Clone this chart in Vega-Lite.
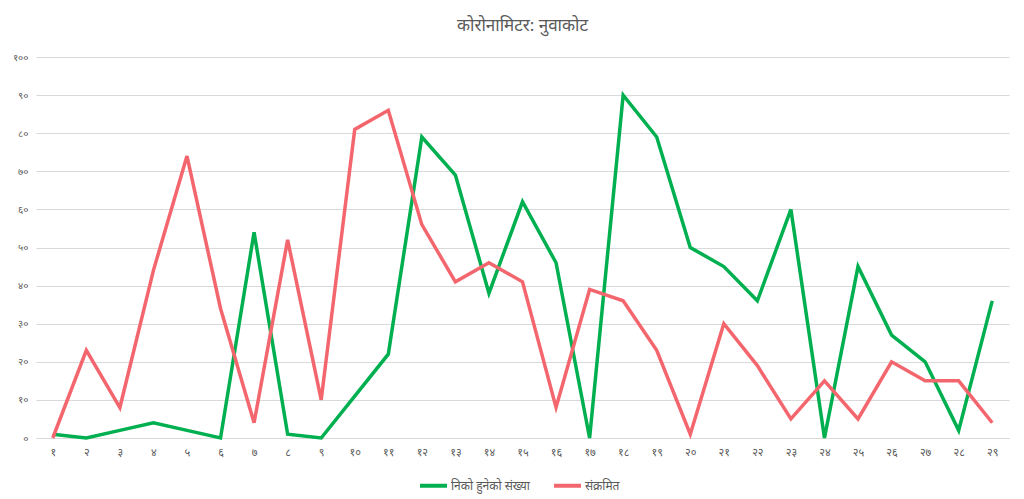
{
  "$schema": "https://vega.github.io/schema/vega-lite/v6.json",
  "autosize": "none",
  "padding": {"left": 36, "top": 57, "right": 15, "bottom": 61},
  "width": 973,
  "height": 381,
  "background": "white",
  "title": {
    "text": "कोरोनामिटर: नुवाकोट",
    "anchor": "middle",
    "fontSize": 17,
    "fontWeight": "normal",
    "color": "#595959",
    "offset": 17
  },
  "data": {
    "values": [
      {"day": 1, "series": "निको हुनेको संख्या", "value": 1},
      {"day": 2, "series": "निको हुनेको संख्या", "value": 0},
      {"day": 3, "series": "निको हुनेको संख्या", "value": 2},
      {"day": 4, "series": "निको हुनेको संख्या", "value": 4},
      {"day": 5, "series": "निको हुनेको संख्या", "value": 2},
      {"day": 6, "series": "निको हुनेको संख्या", "value": 0},
      {"day": 7, "series": "निको हुनेको संख्या", "value": 54},
      {"day": 8, "series": "निको हुनेको संख्या", "value": 1},
      {"day": 9, "series": "निको हुनेको संख्या", "value": 0},
      {"day": 10, "series": "निको हुनेको संख्या", "value": 11},
      {"day": 11, "series": "निको हुनेको संख्या", "value": 22},
      {"day": 12, "series": "निको हुनेको संख्या", "value": 79},
      {"day": 13, "series": "निको हुनेको संख्या", "value": 69},
      {"day": 14, "series": "निको हुनेको संख्या", "value": 38},
      {"day": 15, "series": "निको हुनेको संख्या", "value": 62},
      {"day": 16, "series": "निको हुनेको संख्या", "value": 46},
      {"day": 17, "series": "निको हुनेको संख्या", "value": 0},
      {"day": 18, "series": "निको हुनेको संख्या", "value": 90},
      {"day": 19, "series": "निको हुनेको संख्या", "value": 79},
      {"day": 20, "series": "निको हुनेको संख्या", "value": 50},
      {"day": 21, "series": "निको हुनेको संख्या", "value": 45},
      {"day": 22, "series": "निको हुनेको संख्या", "value": 36},
      {"day": 23, "series": "निको हुनेको संख्या", "value": 60},
      {"day": 24, "series": "निको हुनेको संख्या", "value": 0},
      {"day": 25, "series": "निको हुनेको संख्या", "value": 45},
      {"day": 26, "series": "निको हुनेको संख्या", "value": 27},
      {"day": 27, "series": "निको हुनेको संख्या", "value": 20},
      {"day": 28, "series": "निको हुनेको संख्या", "value": 2},
      {"day": 29, "series": "निको हुनेको संख्या", "value": 36},
      {"day": 1, "series": "संक्रमित", "value": 0},
      {"day": 2, "series": "संक्रमित", "value": 23},
      {"day": 3, "series": "संक्रमित", "value": 8},
      {"day": 4, "series": "संक्रमित", "value": 44},
      {"day": 5, "series": "संक्रमित", "value": 74},
      {"day": 6, "series": "संक्रमित", "value": 34},
      {"day": 7, "series": "संक्रमित", "value": 4},
      {"day": 8, "series": "संक्रमित", "value": 52},
      {"day": 9, "series": "संक्रमित", "value": 10},
      {"day": 10, "series": "संक्रमित", "value": 81},
      {"day": 11, "series": "संक्रमित", "value": 86},
      {"day": 12, "series": "संक्रमित", "value": 56},
      {"day": 13, "series": "संक्रमित", "value": 41},
      {"day": 14, "series": "संक्रमित", "value": 46},
      {"day": 15, "series": "संक्रमित", "value": 41},
      {"day": 16, "series": "संक्रमित", "value": 8},
      {"day": 17, "series": "संक्रमित", "value": 39},
      {"day": 18, "series": "संक्रमित", "value": 36},
      {"day": 19, "series": "संक्रमित", "value": 23},
      {"day": 20, "series": "संक्रमित", "value": 1},
      {"day": 21, "series": "संक्रमित", "value": 30},
      {"day": 22, "series": "संक्रमित", "value": 19},
      {"day": 23, "series": "संक्रमित", "value": 5},
      {"day": 24, "series": "संक्रमित", "value": 15},
      {"day": 25, "series": "संक्रमित", "value": 5},
      {"day": 26, "series": "संक्रमित", "value": 20},
      {"day": 27, "series": "संक्रमित", "value": 15},
      {"day": 28, "series": "संक्रमित", "value": 15},
      {"day": 29, "series": "संक्रमित", "value": 4}
    ]
  },
  "mark": {"type": "line", "strokeWidth": 3.5, "strokeJoin": "miter"},
  "encoding": {
    "x": {
      "field": "day",
      "type": "ordinal",
      "title": null,
      "axis": {
        "labelAngle": 0,
        "labelFontSize": 11,
        "labelColor": "#595959",
        "labelPadding": 8,
        "ticks": false,
        "domainColor": "#d9d9d9",
        "labelExpr": "['','१','२','३','४','५','६','७','८','९','१०','११','१२','१३','१४','१५','१६','१७','१८','१९','२०','२१','२२','२३','२४','२५','२६','२७','२८','२९'][datum.value]"
      }
    },
    "y": {
      "field": "value",
      "type": "quantitative",
      "title": null,
      "scale": {"domain": [0, 100]},
      "axis": {
        "values": [0, 10, 20, 30, 40, 50, 60, 70, 80, 90, 100],
        "domain": false,
        "ticks": false,
        "labelFontSize": 10,
        "labelColor": "#595959",
        "labelPadding": 8,
        "gridColor": "#d9d9d9",
        "labelExpr": "['०','१०','२०','३०','४०','५०','६०','७०','८०','९०','१००'][datum.value / 10]"
      }
    },
    "color": {
      "field": "series",
      "type": "nominal",
      "title": null,
      "scale": {
        "domain": ["निको हुनेको संख्या", "संक्रमित"],
        "range": ["#00b050", "#f4666e"]
      },
      "legend": {
        "orient": "none",
        "direction": "horizontal",
        "legendX": 382,
        "legendY": 413,
        "symbolType": "stroke",
        "symbolStrokeWidth": 4,
        "symbolSize": 729,
        "labelOffset": 2,
        "labelFontSize": 12,
        "labelColor": "#595959",
        "columnPadding": 16
      }
    }
  },
  "config": {
    "font": "Noto Sans",
    "view": {"stroke": null}
  }
}
